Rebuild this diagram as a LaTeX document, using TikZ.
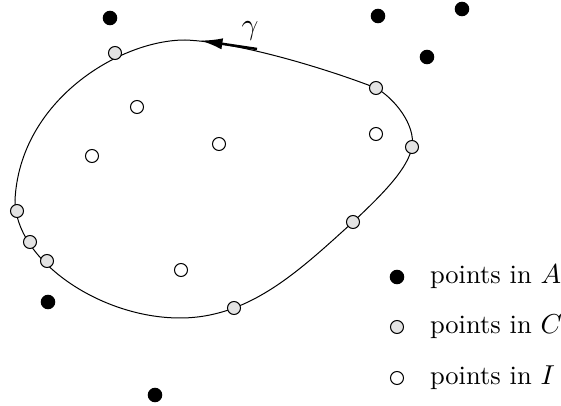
\documentclass[tikz,border=0pt]{standalone}
\usetikzlibrary{arrows.meta}
\begin{document}
\begin{tikzpicture}[
        x=0.4pt, y=-0.4pt,
        ptA/.style={circle, draw, fill=black, inner sep=0pt, minimum size=5.4pt, line width=0.4pt},
        ptC/.style={circle, draw, fill=gray!22, inner sep=0pt, minimum size=5.2pt, line width=0.4pt},
        ptI/.style={circle, draw, fill=white, inner sep=0pt, minimum size=5.2pt, line width=0.4pt},
        legend/.style={anchor=west, inner sep=1pt, font=\fontsize{10.6pt}{12pt}\selectfont}
    ]
        \useasboundingbox (0,0) rectangle (561,406);

        % the curve gamma
        \draw[line width=0.4pt] (185,40)
            .. controls (120,40) and (20,100) .. (15,200)
            .. controls (15,260) and (100,318) .. (180,318)
            .. controls (250,318) and (300,270) .. (353,222)
            .. controls (385,192) and (408,168) .. (412,147)
            .. controls (416,125) and (394,98) .. (376,88)
            .. controls (330,70) and (240,42) .. cycle;
        \coordinate (tipEnd) at (200,40.5);
        \coordinate (tipStart) at (257,49);
        \draw[line width=1pt, -{Latex[length=9pt, width=4.5pt]}] (tipStart) -- (tipEnd);
        \node[font=\large] (gamma) at (250,31) {$\gamma$};

        % points in A
        \foreach \px/\py [count=\k] in {110/18, 378/16, 462/9, 427/57, 48/302, 155/395} {
            \node[ptA] (a\k) at (\px,\py) {};
        }
        % points in C
        \foreach \px/\py [count=\k] in {115/53, 376/88, 412/147, 17/211, 30/242, 47/261, 353/222, 234/308} {
            \node[ptC] (c\k) at (\px,\py) {};
        }
        % points in I
        \foreach \px/\py [count=\k] in {137/107, 92/156, 219/144, 376/134, 181/270} {
            \node[ptI] (i\k) at (\px,\py) {};
        }

        % legend
        \node[ptA] (keyA) at (397,277) {};
        \node[ptC] (keyC) at (397,327) {};
        \node[ptI] (keyI) at (397,378) {};
        \node[legend] (textA) at (427,277) {points in $A$};
        \node[legend] (textC) at (427,327) {points in $C$};
        \node[legend] (textI) at (427,378) {points in $I$};
    \end{tikzpicture}
\end{document}
